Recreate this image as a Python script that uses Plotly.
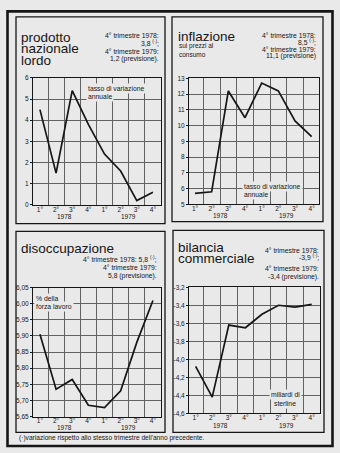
import plotly.graph_objects as go

W, H = 340, 453

# categories
quarters = ["1°", "2°", "3°", "4°", "1°", "2°", "3°", "4°"]
years = ["1978", "1979"]

# series values
pnl = [4.5, 1.5, 5.4, 3.8, 2.4, 1.6, 0.2, 0.6]
inflazione = [5.7, 5.8, 12.2, 10.5, 12.7, 12.2, 10.3, 9.3]
disoccupazione = [5.905, 5.735, 5.765, 5.685, 5.678, 5.73, 5.88, 6.01]
bilancia = [-4.08, -4.42, -3.62, -3.65, -3.50, -3.40, -3.42, -3.39]

# y tick values and labels
pnl_ticks = [0, 1, 2, 3, 4, 5, 6]
pnl_labels = ["0", "1", "2", "3", "4", "5", "6"]
infl_ticks = [5, 6, 7, 8, 9, 10, 11, 12, 13]
infl_labels = ["5", "6", "7", "8", "9", "10", "11", "12", "13"]
dis_ticks = [5.65, 5.70, 5.75, 5.80, 5.85, 5.90, 5.95, 6.00, 6.05]
dis_labels = ["5,65", "5,70", "5,75", "5,80", "5,85", "5,90", "5,95", "6,00", "6,05"]
bil_ticks = [-4.6, -4.4, -4.2, -4.0, -3.8, -3.6, -3.4, -3.2]
bil_labels = ["-4,6", "-4,4", "-4,2", "-4,0", "-3,8", "-3,6", "-3,4", "-3,2"]

FONT = "Liberation Sans"
INK = "#161616"
GRID = "#626262"
PAPER = "#e9e9e9"


def px_x(v):
    return v / W


def px_y(v):
    return 1 - v / H


# plot areas in pixels: (left, right, top, bottom), x range, year label offset
panels = [
    dict(box=(33, 161, 75, 204), xr=[-0.43, 7.5], yr=[0, 6],
         data=pnl, tv=pnl_ticks, tt=pnl_labels, ys=-12),
    dict(box=(189, 319, 75.5, 203.5), xr=[-0.36, 7.44], yr=[5, 13],
         data=inflazione, tv=infl_ticks, tt=infl_labels, ys=-11.5),
    dict(box=(33, 161, 288, 419), xr=[-0.43, 7.5], yr=[5.65, 6.05],
         data=disoccupazione, tv=dis_ticks, tt=dis_labels, ys=-10.5),
    dict(box=(189, 320, 287.7, 415.7), xr=[-0.4, 7.5], yr=[-4.6, -3.2],
         data=bilancia, tv=bil_ticks, tt=bil_labels, ys=-12),
]

fig = go.Figure()
layout = dict(
    width=W, height=H,
    margin=dict(l=0, r=0, t=0, b=0),
    paper_bgcolor=PAPER, plot_bgcolor=PAPER,
    showlegend=False,
    font=dict(family=FONT, color=INK, size=7),
)

annotations = []
xpos = list(range(len(quarters)))

for i, p in enumerate(panels, start=1):
    l, r, t, b = p["box"]
    xa = "x" if i == 1 else f"x{i}"
    ya = "y" if i == 1 else f"y{i}"
    fig.add_trace(go.Scatter(
        x=xpos, y=p["data"], mode="lines", xaxis=xa, yaxis=ya,
        line=dict(color=INK, width=1.7), hoverinfo="skip",
    ))
    layout[f"xaxis{'' if i == 1 else i}"] = dict(
        domain=[px_x(l), px_x(r)], anchor=ya, range=p["xr"],
        tickmode="array", tickvals=xpos, ticktext=quarters,
        showgrid=False, zeroline=False, ticks="", ticklabelstandoff=-2,
        showline=True, mirror=True, linecolor=INK, linewidth=1,
        tickfont=dict(size=6.5, color=INK),
        minor=dict(tickmode="array", tickvals=[k + 0.5 for k in range(7)],
                   showgrid=True, gridcolor=GRID, gridwidth=0.8, ticks=""),
    )
    layout[f"yaxis{'' if i == 1 else i}"] = dict(
        domain=[px_y(b), px_y(t)], anchor=xa, range=p["yr"],
        tickmode="array", tickvals=p["tv"], ticktext=p["tt"],
        showgrid=True, gridcolor=GRID, gridwidth=0.8, zeroline=False,
        ticks="outside", ticklen=2, tickcolor=INK, tickwidth=1,
        showline=True, mirror=True, linecolor=INK, linewidth=1,
        tickfont=dict(size=6.5, color=INK),
    )
    for k, yr in enumerate(years):
        annotations.append(dict(
            text=yr, xref=xa, x=1.5 + 4 * k, yref=f"{ya} domain", y=0,
            yshift=p["ys"], yanchor="middle", xanchor="center", showarrow=False,
            font=dict(size=6.5, color=INK, family=FONT),
        ))


def txt(x, y, s, size=7, anchor="left", bg=None):
    d = dict(text=s, xref="paper", yref="paper", x=px_x(x), y=px_y(y),
             xanchor=anchor, yanchor="middle", showarrow=False,
             font=dict(size=size, color=INK, family=FONT))
    if bg:
        d.update(bgcolor=bg, borderpad=1)
    annotations.append(d)


TS = 13.5
# titles
txt(19, 34, "prodotto", TS)
txt(19, 45.5, "nazionale", TS)
txt(19, 57, "lordo", TS)
txt(176, 33, "inflazione", TS)
txt(177, 42.5, "sui prezzi al", 6.5)
txt(177, 51.5, "consumo", 6.5)
txt(19, 248, "disoccupazione", TS)
txt(176, 247.5, "bilancia", TS)
txt(176, 259, "commerciale", TS)

# side notes
SUP = "<sup>(·)</sup>"
txt(161, 32.5, "4° trimestre 1978:", 6.8, "right")
txt(161, 40, "3,8 " + SUP + ";", 6.8, "right")
txt(161, 48, "4° trimestre 1979:", 6.8, "right")
txt(161, 56, "1,2 (previsione).", 6.8, "right")

txt(318, 31.5, "4° trimestre 1978:", 6.8, "right")
txt(318, 38.5, "8,5 " + SUP + ";", 6.8, "right")
txt(318, 46.5, "4° trimestre 1979:", 6.8, "right")
txt(318, 53, "11,1 (previsione)", 6.8, "right")

txt(159, 259, "4° trimestre 1978: 5,8 " + SUP + ";", 6.8, "right")
txt(159, 267.5, "4° trimestre 1979:", 6.8, "right")
txt(159, 276, "5,8 (previsione).", 6.8, "right")

txt(321, 250, "4° trimestre 1978:", 6.8, "right")
txt(321, 257, "-3,9 " + SUP + ";", 6.8, "right")
txt(321, 268.5, "4° trimestre 1979:", 6.8, "right")
txt(321, 277, "-3,4 (previsione).", 6.8, "right")

# in-chart labels
txt(86, 86, "tasso di variazione", 6.8, bg=PAPER)
txt(86, 94, "annuale", 6.8, bg=PAPER)
txt(242, 185, "tasso di variazione", 6.8, bg=PAPER)
txt(242, 193.5, "annuale", 6.8, bg=PAPER)
txt(34, 299, "% della", 6.8, bg=PAPER)
txt(34, 307, "forza lavoro", 6.8, bg=PAPER)
txt(285, 397, "miliardi di", 6.8, "center", bg=PAPER)
txt(285, 405.5, "sterline", 6.8, "center", bg=PAPER)

# footnote
txt(17, 441, "(·)variazione rispetto allo stesso trimestre dell'anno precedente.", 6.6)

layout["annotations"] = annotations

# frame and panel boxes
shapes = [dict(type="rect", xref="paper", yref="paper",
               x0=px_x(7.5), x1=px_x(332.5), y0=px_y(449), y1=px_y(7.5),
               line=dict(color=INK, width=2.6), layer="above")]
for (x0, y0, x1, y1) in [(16, 13, 165, 223), (172, 13, 323, 221),
                         (16, 231, 165, 435), (173, 230, 324, 435)]:
    shapes.append(dict(type="rect", xref="paper", yref="paper",
                       x0=px_x(x0), x1=px_x(x1), y0=px_y(y1), y1=px_y(y0),
                       line=dict(color=INK, width=1.3), layer="above"))
layout["shapes"] = shapes

fig.update_layout(**layout)
fig.write_html("out.html")
